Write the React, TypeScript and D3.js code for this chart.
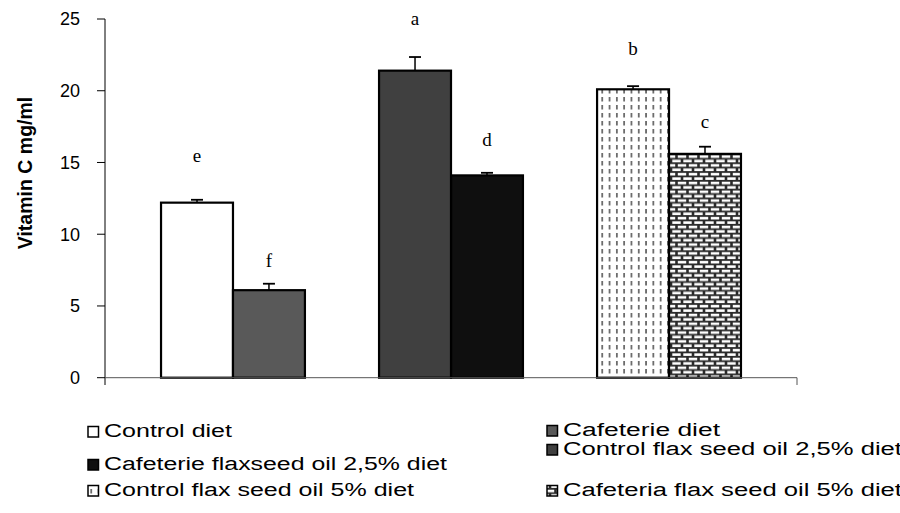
import * as d3 from "d3";
import React from "react";

// legend order
const seriesNames = [
  "Control diet",
  "Cafeterie diet",
  "Cafeterie flaxseed oil 2,5% diet",
  "Control flax seed oil 2,5% diet",
  "Control flax seed oil 5% diet",
  "Cafeteria flax seed oil 5% diet",
];
const groups = ["Control", "Flax 2.5%", "Flax 5%"];
const seriesGroup = [0, 0, 1, 1, 2, 2];
const seriesSlot = [0, 1, 1, 0, 0, 1];
const values = [12.2, 6.1, 14.1, 21.4, 20.1, 15.6];
const errors = [0.2, 0.45, 0.18, 0.95, 0.22, 0.5];
const letters = ["e", "f", "d", "a", "b", "c"];
const letterY = [15.0, 7.7, 16.15, 24.6, 22.5, 17.4];
const yTicks = [0, 5, 10, 15, 20, 25];

const fills = ["#ffffff", "#595959", "#0f0f0f", "#404040", "url(#dots)", "url(#brick)"];

// legend placement: column, baseline, text width
const legendCol = [0, 1, 0, 1, 0, 1];
const legendBase = [437, 436, 470, 455, 496, 496];
const legendWidth = [128, 157, 343, 339, 310, 339];

const W = 900;
const H = 513;

const App: React.FC = () => {
  const y = d3.scaleLinear().domain([0, 25]).range([377.7, 19]);
  const x = d3
    .scaleBand<number>()
    .domain(groups.map((_, i) => i))
    .range([105, 797])
    .paddingInner(0.34)
    .paddingOuter(0.257);
  const inner = d3
    .scaleBand<number>()
    .domain([0, 1])
    .range([0, x.bandwidth()]);

  const sans = "'Liberation Sans', Arial, sans-serif";
  const serif = "'Liberation Serif', 'Times New Roman', serif";

  return (
    <div style={{ position: "absolute", left: 0, top: 0 }}>
      <svg width={W} height={H} style={{ display: "block", background: "#fff" }}>
        <defs>
          <pattern id="dots" width="7.3" height="8" patternUnits="userSpaceOnUse">
            <rect width="7.3" height="8" fill="#fff" />
            <rect x="3" y="1" width="1.3" height="4.5" fill="#333" />
          </pattern>
          <pattern id="brick" width="11" height="8.8" patternUnits="userSpaceOnUse">
            <rect width="11" height="8.8" fill="#2a2a2a" />
            <rect x="1.3" y="1.3" width="8.4" height="2.6" fill="#fff" />
            <rect x="-4.2" y="5.7" width="8.4" height="2.6" fill="#fff" />
            <rect x="6.8" y="5.7" width="8.4" height="2.6" fill="#fff" />
          </pattern>
        </defs>

        {/* y axis */}
        <line x1={105} x2={105} y1={y(25)} y2={385} stroke="#000" strokeWidth={1} />
        {yTicks.map((t) => (
          <g key={t}>
            <line x1={97} x2={105} y1={y(t)} y2={y(t)} stroke="#000" strokeWidth={1} />
            <text
              x={80}
              y={y(t)}
              dy="0.36em"
              textAnchor="end"
              fontFamily={sans}
              fontSize={18}
              fill="#000"
            >
              {t}
            </text>
          </g>
        ))}
        <text
          transform={`translate(32,${173}) rotate(-90)`}
          textAnchor="middle"
          fontFamily={sans}
          fontSize={19.5}
          fontWeight="bold"
          fill="#000"
        >
          Vitamin C mg/ml
        </text>

        {/* bars */}
        {values.map((v, i) => {
          const bx = (x(seriesGroup[i]) ?? 0) + (inner(seriesSlot[i]) ?? 0);
          const bw = inner.bandwidth();
          const cx = bx + bw / 2;
          return (
            <g key={i}>
              <rect
                x={bx}
                y={y(v)}
                width={bw}
                height={y(0) - y(v)}
                fill={fills[i]}
                stroke="#000"
                strokeWidth={2.2}
              />
              <line x1={cx} x2={cx} y1={y(v)} y2={y(v + errors[i])} stroke="#000" strokeWidth={1.5} />
              <line
                x1={cx - 6}
                x2={cx + 6}
                y1={y(v + errors[i])}
                y2={y(v + errors[i])}
                stroke="#000"
                strokeWidth={1.8}
              />
              <text
                x={cx}
                y={y(letterY[i])}
                textAnchor="middle"
                fontFamily={serif}
                fontSize={19}
                fill="#000"
              >
                {letters[i]}
              </text>
            </g>
          );
        })}

        {/* x axis */}
        <line x1={105} x2={797} y1={y(0)} y2={y(0)} stroke="#555" strokeWidth={1} />
        <line x1={797} x2={797} y1={y(0)} y2={385} stroke="#555" strokeWidth={1} />

        {/* legend */}
        {seriesNames.map((name, i) => {
          const lx = legendCol[i] === 0 ? 88 : 547;
          const base = legendBase[i];
          return (
            <g key={name}>
              <rect
                x={lx}
                y={base - 10.5}
                width={10.5}
                height={10.5}
                fill={fills[i]}
                stroke="#000"
                strokeWidth={1.5}
              />
              <text
                x={lx + 16}
                y={base}
                fontFamily={sans}
                fontSize={18}
                fill="#000"
                textLength={legendWidth[i]}
                lengthAdjust="spacingAndGlyphs"
              >
                {name}
              </text>
            </g>
          );
        })}
      </svg>
    </div>
  );
};

export default App;
